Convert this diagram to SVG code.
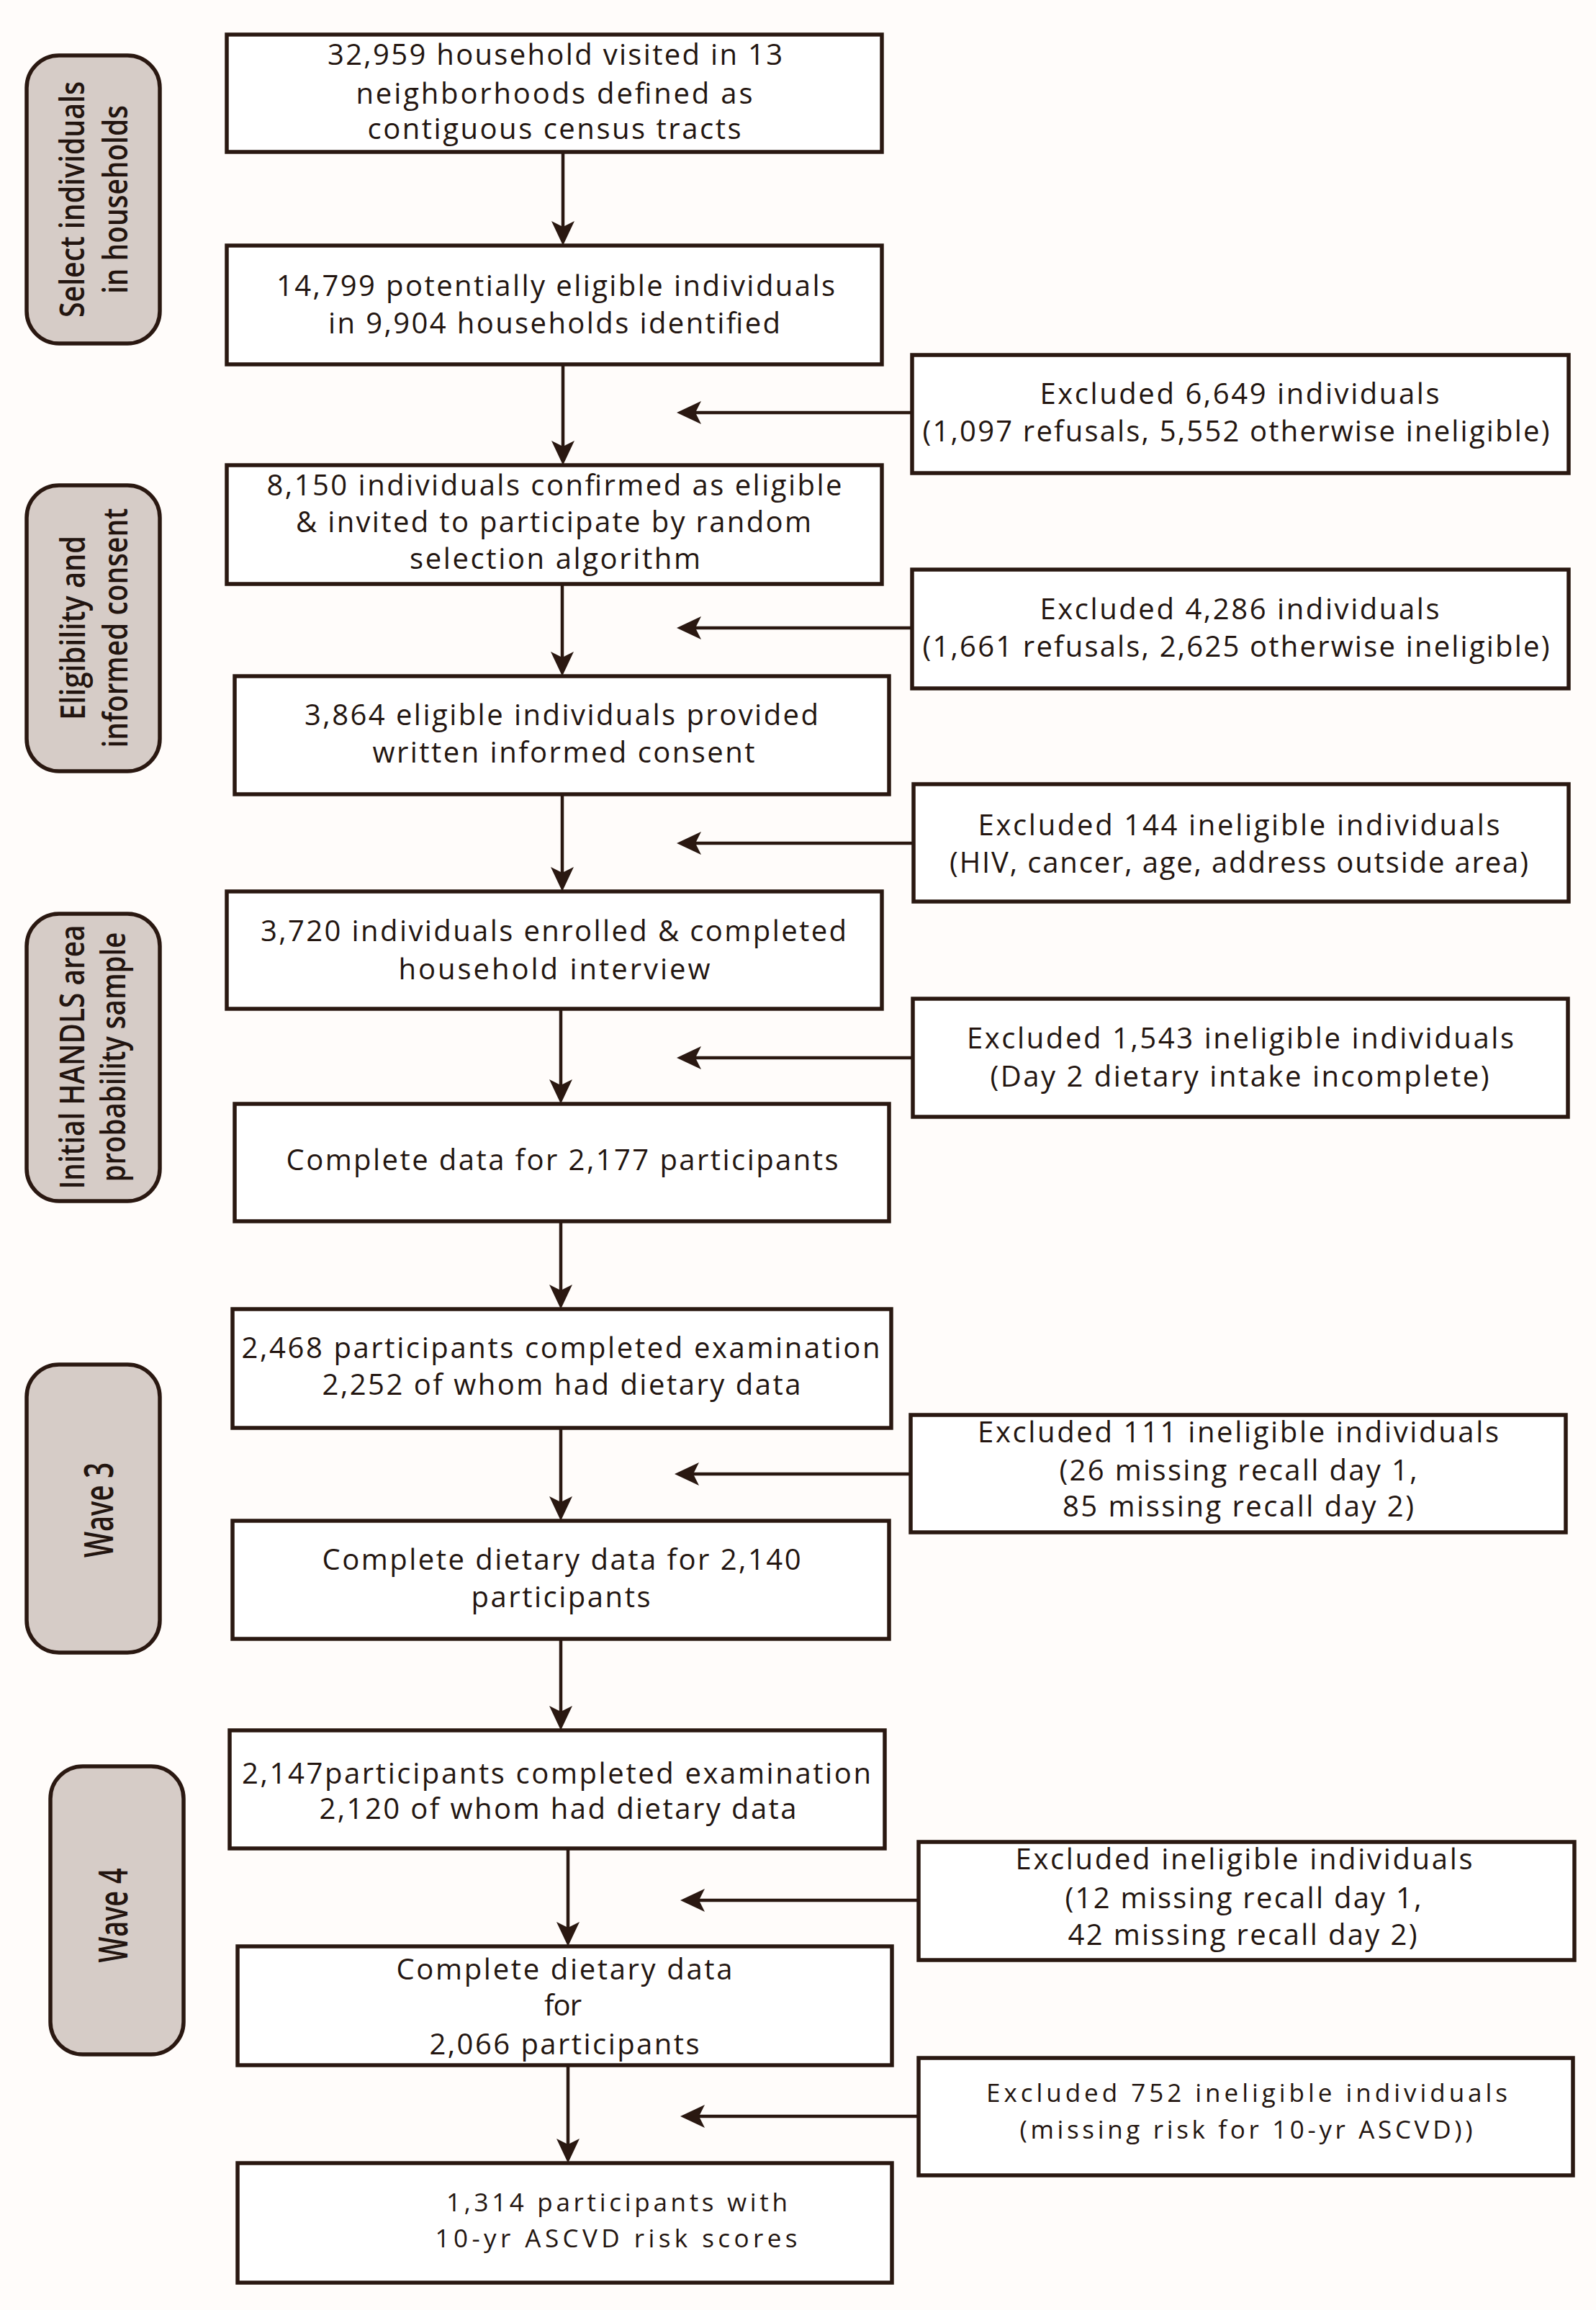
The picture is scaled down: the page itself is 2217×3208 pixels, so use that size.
<svg xmlns="http://www.w3.org/2000/svg" width="2217" height="3208" viewBox="0 0 2217 3208">
<style>
.bg{fill:#fffcfa}
.box{fill:#ffffff;stroke:#2a1811;stroke-width:5.5}
.lab{fill:#d6ccc7;stroke:#2a1811;stroke-width:5.5}
.t{font-family:"Open Sans","Liberation Sans",Arial,sans-serif;font-size:40px;fill:#231510;text-anchor:middle}
.s{font-size:35px}
.lt{font-family:"Open Sans","Liberation Sans",Arial,sans-serif;font-size:47px;font-weight:600;fill:#231510;text-anchor:middle}
.wt{font-family:"Open Sans","Liberation Sans",Arial,sans-serif;font-size:56px;font-weight:600;fill:#231510;text-anchor:middle}
.c{fill:none;stroke:#2a1811;stroke-width:4.5;marker-end:url(#ah)}
</style>
<defs>
<marker id="ah" markerUnits="userSpaceOnUse" viewBox="0 0 34 32" refX="24" refY="16" markerWidth="34" markerHeight="32" orient="auto">
<path d="M0,0 L34,16 L0,32 L8,16 Z" fill="#2a1811"/>
</marker>
</defs>
<rect class="bg" x="0" y="0" width="2217" height="3208"/>

<g id="connectors">
<line class="c" x1="782" y1="211" x2="782" y2="331"/>
<line class="c" x1="782" y1="506" x2="782" y2="636"/>
<line class="c" x1="781" y1="811" x2="781" y2="929"/>
<line class="c" x1="781" y1="1103" x2="781" y2="1228"/>
<line class="c" x1="779" y1="1401" x2="779" y2="1523"/>
<line class="c" x1="779" y1="1696" x2="779" y2="1808"/>
<line class="c" x1="779" y1="1983" x2="779" y2="2102"/>
<line class="c" x1="779" y1="2276" x2="779" y2="2393"/>
<line class="c" x1="789" y1="2567" x2="789" y2="2693"/>
<line class="c" x1="789" y1="2868" x2="789" y2="2994"/>
<line class="c" x1="1267" y1="573" x2="950" y2="573"/>
<line class="c" x1="1267" y1="872" x2="950" y2="872"/>
<line class="c" x1="1269" y1="1171" x2="950" y2="1171"/>
<line class="c" x1="1268" y1="1469" x2="950" y2="1469"/>
<line class="c" x1="1265" y1="2047" x2="947" y2="2047"/>
<line class="c" x1="1276" y1="2639" x2="955" y2="2639"/>
<line class="c" x1="1276" y1="2939" x2="955" y2="2939"/>
</g>

<g id="label-select">
<rect class="lab" x="37" y="77" width="185" height="400" rx="45" ry="45"/>
<text class="lt" transform="translate(117,277) rotate(-90)" textLength="328" lengthAdjust="spacingAndGlyphs">Select individuals</text>
<text class="lt" transform="translate(177,277) rotate(-90)" textLength="262" lengthAdjust="spacingAndGlyphs">in households</text>
</g>
<g id="label-eligibility">
<rect class="lab" x="37" y="674" width="185" height="397" rx="45" ry="45"/>
<text class="lt" transform="translate(118,872) rotate(-90)" textLength="256" lengthAdjust="spacingAndGlyphs">Eligibility and</text>
<text class="lt" transform="translate(177,872) rotate(-90)" textLength="333" lengthAdjust="spacingAndGlyphs">informed consent</text>
</g>
<g id="label-initial">
<rect class="lab" x="37" y="1269" width="185" height="399" rx="45" ry="45"/>
<text class="lt" transform="translate(117,1468) rotate(-90)" textLength="367" lengthAdjust="spacingAndGlyphs">Initial HANDLS area</text>
<text class="lt" transform="translate(174,1468) rotate(-90)" textLength="347" lengthAdjust="spacingAndGlyphs">probability sample</text>
</g>
<g id="label-wave3">
<rect class="lab" x="37" y="1895" width="185" height="400" rx="45" ry="45"/>
<text class="wt" transform="translate(157,2097) rotate(-90)" textLength="132" lengthAdjust="spacingAndGlyphs">Wave 3</text>
</g>
<g id="label-wave4">
<rect class="lab" x="70" y="2453" width="185" height="400" rx="45" ry="45"/>
<text class="wt" transform="translate(177,2660) rotate(-90)" textLength="131" lengthAdjust="spacingAndGlyphs">Wave 4</text>
</g>

<g id="box-households">
<rect class="box" x="315" y="48" width="910" height="163"/>
<text class="t" x="771" y="90" textLength="632">32,959 household visited in 13</text>
<text class="t" x="770" y="144" textLength="551">neighborhoods defined as</text>
<text class="t" x="770" y="193" textLength="519">contiguous census tracts</text>
</g>
<g id="box-potential">
<rect class="box" x="315" y="341" width="910" height="165"/>
<text class="t" x="772" y="411" textLength="776">14,799 potentially eligible individuals</text>
<text class="t" x="770" y="463" textLength="628">in 9,904 households identified</text>
</g>
<g id="box-confirmed">
<rect class="box" x="315" y="646" width="910" height="165"/>
<text class="t" x="770" y="688" textLength="799">8,150 individuals confirmed as eligible</text>
<text class="t" x="769" y="739" textLength="716">&amp; invited to participate by random</text>
<text class="t" x="771" y="790" textLength="404">selection algorithm</text>
</g>
<g id="box-consent">
<rect class="box" x="326" y="939" width="909" height="164"/>
<text class="t" x="780" y="1007" textLength="714">3,864 eligible individuals provided</text>
<text class="t" x="783" y="1059" textLength="531">written informed consent</text>
</g>
<g id="box-enrolled">
<rect class="box" x="315" y="1238" width="910" height="163"/>
<text class="t" x="769" y="1307" textLength="814">3,720 individuals enrolled &amp; completed</text>
<text class="t" x="770" y="1360" textLength="433">household interview</text>
</g>
<g id="box-complete2177">
<rect class="box" x="326" y="1533" width="909" height="163"/>
<text class="t" x="781" y="1625" textLength="767">Complete data for 2,177 participants</text>
</g>
<g id="box-wave3exam">
<rect class="box" x="323" y="1818" width="915" height="165"/>
<text class="t" x="779" y="1886" textLength="887">2,468 participants completed examination</text>
<text class="t" x="780" y="1937" textLength="665">2,252 of whom had dietary data</text>
</g>
<g id="box-wave3diet">
<rect class="box" x="323" y="2112" width="912" height="164"/>
<text class="t" x="780" y="2180" textLength="665">Complete dietary data for 2,140</text>
<text class="t" x="779" y="2232" textLength="249">participants</text>
</g>
<g id="box-wave4exam">
<rect class="box" x="319" y="2403" width="910" height="164"/>
<text class="t" x="773" y="2477" textLength="874">2,147participants completed examination</text>
<text class="t" x="775" y="2526" textLength="663">2,120 of whom had dietary data</text>
</g>
<g id="box-wave4diet">
<rect class="box" x="330" y="2703" width="909" height="165"/>
<text class="t" x="784" y="2749" textLength="467">Complete dietary data</text>
<text class="t" x="782" y="2799" textLength="52">for</text>
<text class="t" x="784" y="2853" textLength="375">2,066 participants</text>
</g>
<g id="box-ascvd">
<rect class="box" x="330" y="3004" width="909" height="166"/>
<text class="t s" x="857" y="3071" textLength="474">1,314 participants with</text>
<text class="t s" x="856" y="3121" textLength="503">10-yr ASCVD risk scores</text>
</g>

<g id="excl-6649">
<rect class="box" x="1267" y="493" width="912" height="164"/>
<text class="t" x="1722" y="561" textLength="555">Excluded 6,649 individuals</text>
<text class="t" x="1717" y="613" textLength="871">(1,097 refusals, 5,552 otherwise ineligible)</text>
</g>
<g id="excl-4286">
<rect class="box" x="1267" y="791" width="912" height="165"/>
<text class="t" x="1722" y="860" textLength="555">Excluded 4,286 individuals</text>
<text class="t" x="1717" y="912" textLength="871">(1,661 refusals, 2,625 otherwise ineligible)</text>
</g>
<g id="excl-144">
<rect class="box" x="1269" y="1089" width="910" height="163"/>
<text class="t" x="1721" y="1160" textLength="725">Excluded 144 ineligible individuals</text>
<text class="t" x="1721" y="1212" textLength="804">(HIV, cancer, age, address outside area)</text>
</g>
<g id="excl-1543">
<rect class="box" x="1268" y="1387" width="910" height="164"/>
<text class="t" x="1723" y="1456" textLength="760">Excluded 1,543 ineligible individuals</text>
<text class="t" x="1722" y="1509" textLength="693">(Day 2 dietary intake incomplete)</text>
</g>
<g id="excl-111">
<rect class="box" x="1265" y="1965" width="910" height="163"/>
<text class="t" x="1720" y="2003" textLength="724">Excluded 111 ineligible individuals</text>
<text class="t" x="1720" y="2056" textLength="497">(26 missing recall day 1,</text>
<text class="t" x="1720" y="2106" textLength="488">85 missing recall day 2)</text>
</g>
<g id="excl-wave4">
<rect class="box" x="1276" y="2558" width="911" height="164"/>
<text class="t" x="1728" y="2596" textLength="635">Excluded ineligible individuals</text>
<text class="t" x="1727" y="2650" textLength="495">(12 missing recall day 1,</text>
<text class="t" x="1726" y="2701" textLength="485">42 missing recall day 2)</text>
</g>
<g id="excl-752">
<rect class="box" x="1276" y="2858" width="909" height="163"/>
<text class="t s" x="1732" y="2919" textLength="724">Excluded 752 ineligible individuals</text>
<text class="t s" x="1731" y="2970" textLength="629">(missing risk for 10-yr ASCVD))</text>
</g>
</svg>
